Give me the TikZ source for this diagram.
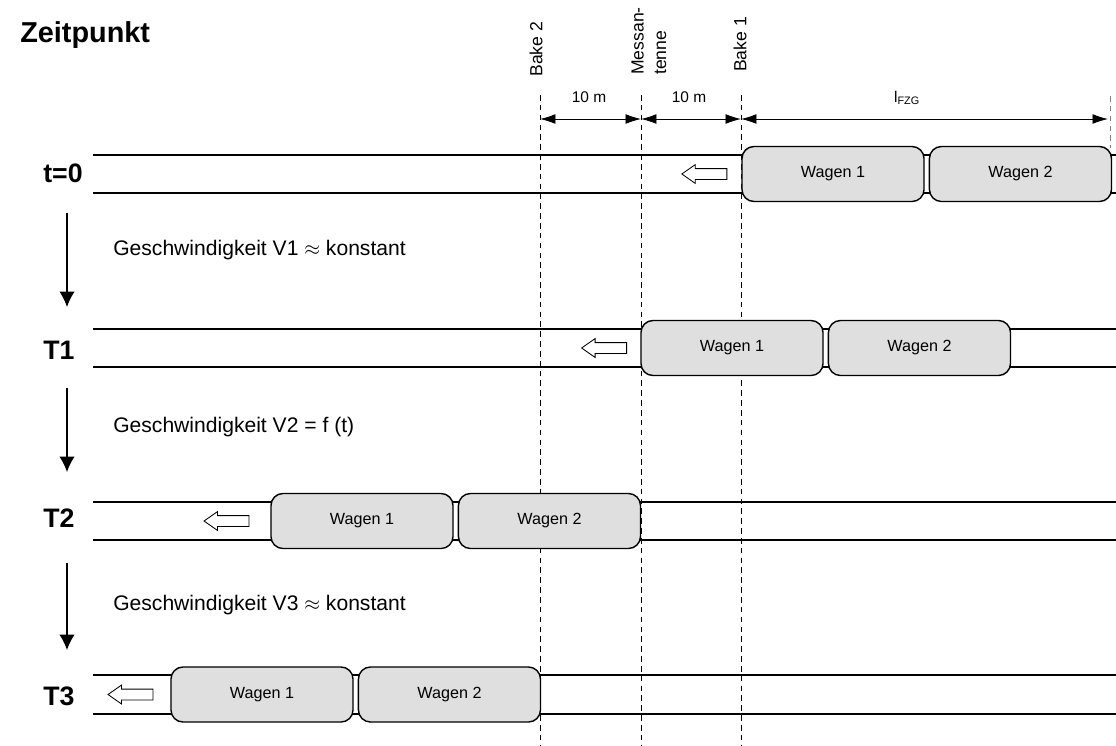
\documentclass[tikz,border=0pt]{standalone}
\usepackage{fontspec}
\setmainfont{Liberation Sans}
\usetikzlibrary{arrows.meta,positioning,shapes.arrows}

\tikzset{
  wagen/.style={draw, line width=1pt, fill=gray!25, rounded corners=0.3cm,
    minimum width=4.55cm, minimum height=1.375cm, inner sep=0pt,
    font=\fontsize{11.5}{13}\selectfont},
  gleis/.style={line width=1.1pt},
  bake/.style={dash pattern=on 4pt off 3pt, line width=0.7pt},
  fahrt/.style={single arrow, shape border rotate=180, draw, fill=white,
    line width=0.6pt, minimum height=1.125cm, minimum width=0.45cm,
    single arrow head extend=0.1cm, single arrow tip angle=70,
    inner xsep=0pt, inner ysep=0.125cm},
  zeit/.style={anchor=west, inner sep=0pt, font=\bfseries\fontsize{19}{22}\selectfont},
  info/.style={anchor=west, inner sep=0pt, font=\fontsize{15}{18}\selectfont},
  mass/.style={font=\fontsize{11}{13}\selectfont},
  masslinie/.style={<->, line width=0.6pt, >={Latex[length=11pt,width=7pt]}},
  zeitpfeil/.style={->, line width=1pt, >={Latex[length=11pt,width=11pt]}},
  bakename/.style={rotate=90, anchor=west, inner sep=0pt,
    font=\fontsize{12.5}{16}\selectfont}
}

\begin{document}
\begin{tikzpicture}[x=0.025cm, y=-0.025cm, node distance=0.1cm]
    \useasboundingbox (0,0) rectangle (1116,745);

    % Zeitpunkte
    \node [zeit, font=\bfseries\fontsize{20.5}{22}\selectfont] (zp) at (20,35) {Zeitpunkt};
    \node [zeit] (l0) at (43,173) {t=0};
    \node [zeit] (l1) at (43,350) {T1};
    \node [zeit] (l2) at (43,518) {T2};
    \node [zeit] (l3) at (43,696) {T3};

    % Gleise
    \draw [gleis] (93,155) -- (1116,155) (93,193) -- (1116,193);
    \draw [gleis] (93,329) -- (1116,329) (93,367) -- (1116,367);
    \draw [gleis] (93,502) -- (1116,502) (93,540) -- (1116,540);
    \draw [gleis] (93,675) -- (1116,675) (93,714) -- (1116,714);

    % Baken und Messantenne
    \coordinate (b2o) at (540,95);  \coordinate (b2u) at (540,745);
    \coordinate (mao) at (641,95);  \coordinate (mau) at (641,745);
    \coordinate (b1o) at (741,95);  \coordinate (b1u) at (741,745);
    \coordinate (fzo) at (1110,96); \coordinate (fzu) at (1110,148);
    \draw [bake] (b2o) -- (b2u);
    \draw [bake] (mao) -- (mau);
    \draw [bake] (b1o) -- (b1u);
    \draw [bake, gray] (fzo) -- (fzu);

    \node [bakename] (n2) at (536,77) {Bake 2};
    \node [bakename, align=left] (nm) at (649,75) {Messan-\\tenne};
    \node [bakename] (n1) at (740,72) {Bake 1};

    % Masse
    \coordinate (d1) at (540,119);
    \coordinate (d2) at (641,119);
    \coordinate (d3) at (741,119);
    \coordinate (d4) at (1108,119);
    \draw [masslinie] (d1) -- (d2);
    \draw [masslinie] (d2) -- (d3);
    \draw [masslinie] (d3) -- (d4);
    \node [mass] (m1) at (589,97) {10 m};
    \node [mass] (m2) at (689,97) {10 m};
    \node [mass] (lf) at (907,98) {l\textsubscript{FZG}};

    % Wagen
    \node [wagen] (w0a) at (833,174)   {Wagen 1};
    \node [wagen] (w0b) [right=of w0a] {Wagen 2};
    \node [wagen] (w1a) at (732,348)   {Wagen 1};
    \node [wagen] (w1b) [right=of w1a] {Wagen 2};
    \node [wagen] (w2a) at (362,521)   {Wagen 1};
    \node [wagen] (w2b) [right=of w2a] {Wagen 2};
    \node [wagen] (w3a) at (262,694.5) {Wagen 1};
    \node [wagen] (w3b) [right=of w3a] {Wagen 2};

    % Fahrtrichtung
    \node [fahrt] (p0) [left=0.35cm of w0a] {};
    \node [fahrt] (p1) [left=0.33cm of w1a] {};
    \node [fahrt] (p2) [left=0.52cm of w2a] {};
    \node [fahrt] (p3) [left=0.42cm of w3a] {};

    % Zeitablauf
    \coordinate (a0) at (67,213); \coordinate (a1) at (67,307);
    \coordinate (a2) at (67,388); \coordinate (a3) at (67,472);
    \coordinate (a4) at (67,563); \coordinate (a5) at (67,650);
    \draw [zeitpfeil] (a0) -- (a1);
    \draw [zeitpfeil] (a2) -- (a3);
    \draw [zeitpfeil] (a4) -- (a5);

    \node [info] (v1) at (113,250) {Geschwindigkeit V1 $\approx$ konstant};
    \node [info] (v2) at (113,427) {Geschwindigkeit V2 = f (t)};
    \node [info] (v3) at (113,605) {Geschwindigkeit V3 $\approx$ konstant};
\end{tikzpicture}
\end{document}
